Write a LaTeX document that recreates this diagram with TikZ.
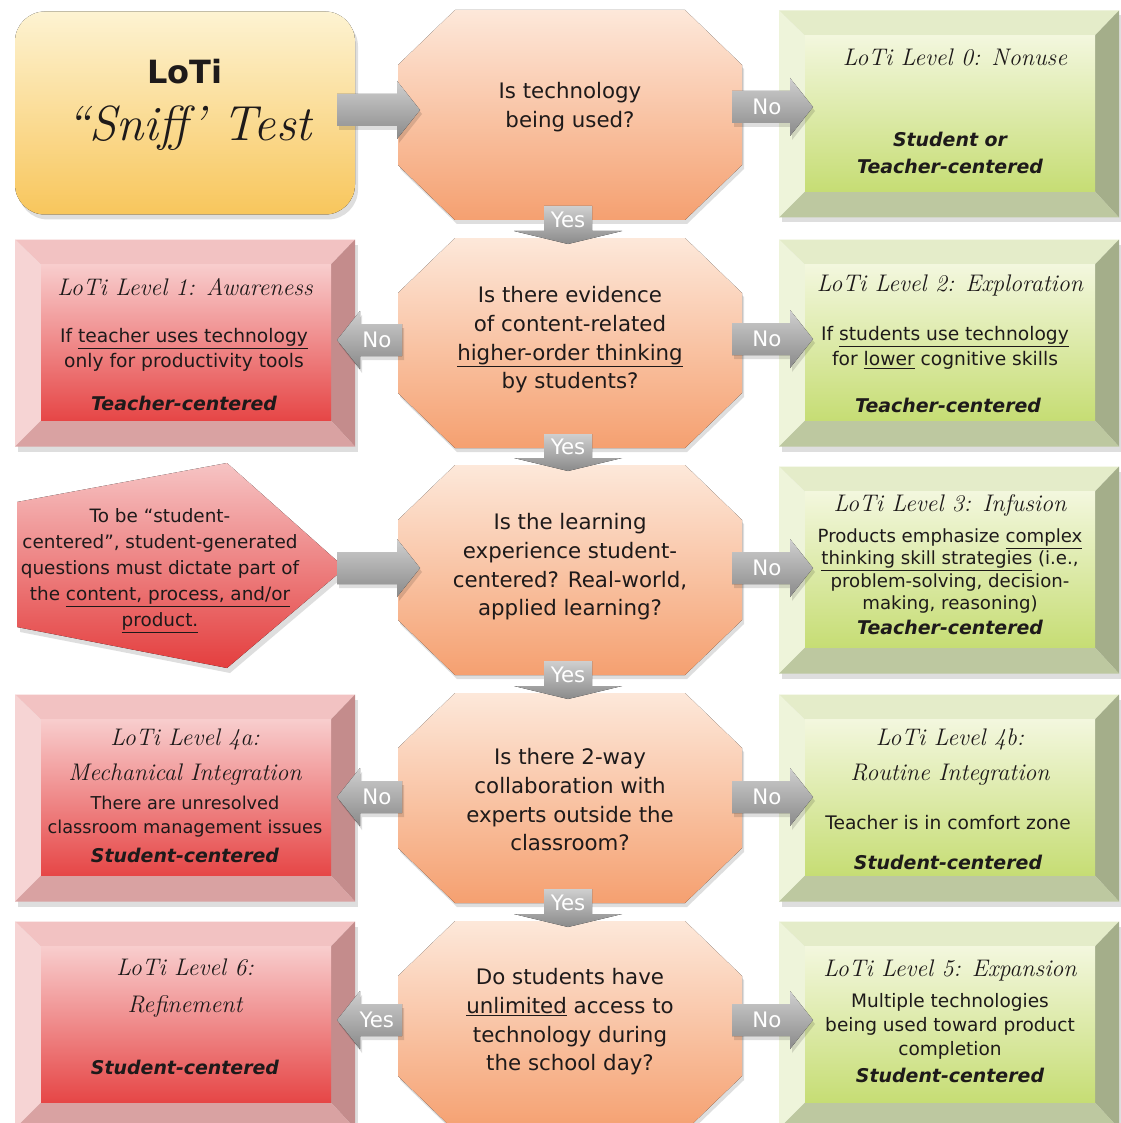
\documentclass[tikz,border=0pt]{standalone}
\usepackage{fontspec}
\newfontfamily\bodyf{DejaVu Sans}
\usetikzlibrary{calc}
\definecolor{octT}{HTML}{FDE8DA}
\definecolor{octB}{HTML}{F5A070}
\definecolor{stT}{HTML}{FDF3D2}
\definecolor{stB}{HTML}{F8C65C}
\definecolor{Rtop}{HTML}{F2C2C2}
\definecolor{Rleft}{HTML}{F6D4D4}
\definecolor{Rright}{HTML}{C48C8C}
\definecolor{Rbot}{HTML}{D9A2A2}
\definecolor{Rf1}{HTML}{F8CDCD}
\definecolor{Rf2}{HTML}{E64646}
\definecolor{Gtop}{HTML}{E4ECC9}
\definecolor{Gleft}{HTML}{EEF4DA}
\definecolor{Gright}{HTML}{A4AE8A}
\definecolor{Gbot}{HTML}{BDC8A0}
\definecolor{Gf1}{HTML}{F3F7DE}
\definecolor{Gf2}{HTML}{C6DD74}
\definecolor{arT}{HTML}{CFCFCF}
\definecolor{arB}{HTML}{8A8A8A}
\definecolor{pT}{HTML}{F6C4C4}
\definecolor{pB}{HTML}{E43E3E}
\definecolor{ink}{HTML}{1E1A1A}
\tikzset{
 shapebox/.style={inner sep=0pt, outer sep=0pt, minimum width=255pt, minimum height=155.25pt},
 octbox/.style={shapebox, minimum width=258pt, minimum height=157.5pt},
 hd/.style={font=\fontsize{18}{26}\selectfont\itshape, text=ink, align=center, inner sep=0pt},
 bd/.style={font=\bodyf\fontsize{14}{18.75}\selectfont, text=ink, align=center, inner sep=0pt},
 ctr/.style={font=\bodyf\bfseries\itshape\fontsize{14.2}{20}\selectfont, text=ink, align=center, inner sep=0pt},
 qt/.style={font=\bodyf\fontsize{16}{21.5}\selectfont, text=ink, align=center, inner sep=0pt},
 lbl/.style={font=\bodyf\fontsize{16}{18}\selectfont, text=white, inner sep=0pt},
 arrowfill/.style={top color=arT, bottom color=arB},
 shadowfill/.style={fill=black, opacity=0.13},
}
\newcommand\bevelbox[2]{%
 \path (#1.north west) coordinate (o1) (#1.north east) coordinate (o2)
       (#1.south east) coordinate (o3) (#1.south west) coordinate (o4);
 \path ($(o1)+(26,25)$) coordinate (i1) ($(o2)+(-24,25)$) coordinate (i2)
       ($(o3)+(-24,-26)$) coordinate (i3) ($(o4)+(26,-26)$) coordinate (i4);
 \fill[shadowfill] ($(o1)+(3,5)$) rectangle ($(o3)+(3,5)$);
 \fill[#2top] (o1) -- (o2) -- (i2) -- (i1) -- cycle;
 \fill[#2left] (o1) -- (i1) -- (i4) -- (o4) -- cycle;
 \fill[#2right] (o2) -- (o3) -- (i3) -- (i2) -- cycle;
 \fill[#2bot] (o4) -- (i4) -- (i3) -- (o3) -- cycle;
 \fill[top color=#2f1, bottom color=#2f2] (i1) rectangle (i3);
}
\newcommand\octa[1]{%
 \path ($(#1.north west)+(57,0)$) coordinate (c1) ($(#1.north east)+(-57,0)$) coordinate (c2)
       ($(#1.north east)+(0,55)$) coordinate (c3) ($(#1.south east)+(0,-55)$) coordinate (c4)
       ($(#1.south east)+(-57,0)$) coordinate (c5) ($(#1.south west)+(57,0)$) coordinate (c6)
       ($(#1.south west)+(0,-55)$) coordinate (c7) ($(#1.north west)+(0,55)$) coordinate (c8);
 \fill[shadowfill] ($(c1)+(2,4)$) -- ($(c2)+(2,4)$) -- ($(c3)+(2,4)$) -- ($(c4)+(2,4)$) -- ($(c5)+(2,4)$) -- ($(c6)+(2,4)$) -- ($(c7)+(2,4)$) -- ($(c8)+(2,4)$) -- cycle;
 \fill[top color=octT, bottom color=octB] (c1) -- (c2) -- (c3) -- (c4) -- (c5) -- (c6) -- (c7) -- (c8) -- cycle;
}
% #1 tail coordinate, #2 target anchor, #3 x offset of tip, #4 label, #5 label name
\newcommand\harr[5]{%
 \path #1 coordinate (ta);
 \path (#2 |- ta) coordinate (tc);
 \path ($(tc)+(#3,0)$) coordinate (tb);
 \path ($(tb)!17.25pt!(ta)$) coordinate (hb);
 \fill[shadowfill] ($(ta)+(2,-12)$) -- ($(hb)+(2,-12)$) -- ($(hb)+(2,-25)$) -- ($(tb)+(2,4)$) -- ($(hb)+(2,33)$) -- ($(hb)+(2,20)$) -- ($(ta)+(2,20)$) -- cycle;
 \fill[arrowfill] ($(ta)+(0,-16)$) -- ($(hb)+(0,-16)$) -- ($(hb)+(0,-29)$) -- (tb) -- ($(hb)+(0,29)$) -- ($(hb)+(0,16)$) -- ($(ta)+(0,16)$) -- cycle;
 \node[lbl] (#5) at ($(ta)!0.6!(hb)$) {#4};
}
\newcommand\yarr[3]{%
 \path ($(#1.south)+(-2,-14)$) coordinate (ya);
 \path (ya |- #2.north) coordinate (yc);
 \path ($(yc)+(0,-7)$) coordinate (yb);
 \fill[arrowfill] ($(ya)+(-24,0)$) -- ($(ya)+(24,0)$) -- ($(yb)+(24,0)$) -- ($(yb)+(54,0)$) -- ($(yb)+(0,13)$) -- ($(yb)+(-54,0)$) -- ($(yb)+(-24,0)$) -- cycle;
 \node[lbl] (#3) at ($(ya)!0.5!(yb)+(0,1)$) {Yes};
}
\begin{document}
\begin{tikzpicture}[x=0.75pt,y=-0.75pt]
\useasboundingbox (0,0) rectangle (1120,1123);
\fill[white] (0,0) rectangle (1120,1123);
% shape nodes
\node[shapebox, minimum height=152.25pt] (start) at (185,113) {};
\node[octbox] (q1) at (570,115) {};
\node[octbox] (q2) at (570,343) {};
\node[octbox] (q3) at (570,570) {};
\node[octbox] (q4) at (570,798) {};
\node[octbox] (q5) at (570,1026) {};
\node[shapebox] (l0) at (949,114) {};
\node[shapebox] (l1) at (185,343) {};
\node[shapebox] (l2) at (949,343) {};
\node[shapebox, minimum width=246pt, minimum height=153.75pt] (p) at (180,566) {};
\node[shapebox] (l3) at (949,570) {};
\node[shapebox] (l4a) at (185,798) {};
\node[shapebox] (l4b) at (949,798) {};
\node[shapebox] (l6) at (185,1025) {};
\node[shapebox] (l5) at (949,1025) {};
% start box
\fill[shadowfill, rounded corners=22.5pt] ($(start.north west)+(3,5)$) rectangle ($(start.south east)+(3,5)$);
\fill[top color=stT, bottom color=stB, rounded corners=22.5pt] (start.north west) rectangle (start.south east);
% octagons
\octa{q1}\octa{q2}\octa{q3}\octa{q4}\octa{q5}
% bevel boxes
\bevelbox{l0}{G}\bevelbox{l2}{G}\bevelbox{l3}{G}\bevelbox{l4b}{G}\bevelbox{l5}{G}
\bevelbox{l1}{R}\bevelbox{l4a}{R}\bevelbox{l6}{R}
% pentagon
\fill[shadowfill] ($(p.center)+(-160,-59)$) -- ($(p.center)+(50,-98)$) -- ($(p.center)+(168,7)$) -- ($(p.center)+(50,107)$) -- ($(p.center)+(-160,66)$) -- cycle;
\fill[top color=pT, bottom color=pB] ($(p.center)+(-163,-64)$) -- ($(p.center)+(47,-103)$) -- ($(p.center)+(165,2)$) -- ($(p.center)+(47,102)$) -- ($(p.center)+(-163,61)$) -- cycle;
% connectors
\harr{($(start.east)+(-18,-3)$)}{q1.west}{22}{}{a0}
\harr{($(q1.east)+(-10,-8)$)}{l0.west}{34}{No}{n1}
\yarr{q1}{q2}{y1}
\harr{($(q2.west)+(4,-3)$)}{l1.east}{-18}{No}{n2l}
\harr{($(q2.east)+(-10,-4)$)}{l2.west}{34}{No}{n2r}
\yarr{q2}{q3}{y2}
\harr{($(p.east)+(-7,2)$)}{q3.west}{22}{}{a3}
\harr{($(q3.east)+(-10,-2)$)}{l3.west}{34}{No}{n3r}
\yarr{q3}{q4}{y3}
\harr{($(q4.west)+(4,-1)$)}{l4a.east}{-18}{No}{n4l}
\harr{($(q4.east)+(-10,-1)$)}{l4b.west}{34}{No}{n4r}
\yarr{q4}{q5}{y4}
\harr{($(q5.west)+(4,-6)$)}{l6.east}{-18}{Yes}{y5l}
\harr{($(q5.east)+(-10,-6)$)}{l5.west}{34}{No}{n5r}
% texts
\node[font=\bodyf\bfseries\fontsize{24}{28}\selectfont, text=ink] (t0a) at (185,72) {LoTi};
\node[font=\fontsize{37}{40}\selectfont\itshape, text=ink] (t0b) at (189,128) {“Sniff’ Test};
\node[qt] (tq1) at (570,107) {Is technology\\being used?};
\node[qt] (tq2) at (570,340) {Is there evidence\\of content-related\\\underline{higher-order thinking}\\by students?};
\node[qt] (tq3) at (570,567) {Is the learning\\experience student-\\centered? Real-world,\\applied learning?};
\node[qt] (tq4) at (570,800) {Is there 2-way\\collaboration with\\experts outside the\\classroom?};
\node[qt] (tq5) at (570,1022) {Do students have\\\underline{unlimited} access to\\technology during\\the school day?};
% level 0
\node[hd] (h0) at (955,57) {LoTi Level 0: Nonuse};
\node[ctr, font=\bodyf\bfseries\itshape\fontsize{14.2}{20.5}\selectfont] (c0) at (950,153) {Student or\\Teacher-centered};
% level 1
\node[hd] (h1) at (185,287) {LoTi Level 1: Awareness};
\node[bd] (b1) at (184,350) {If \underline{teacher uses technology}\\only for productivity tools};
\node[ctr] (c1) at (184,403) {Teacher-centered};
% level 2
\node[hd] (h2) at (950,285) {LoTi Level 2: Exploration};
\node[bd] (b2) at (945,348) {If \underline{students use technology}\\for \underline{lower} cognitive skills};
\node[ctr] (c2) at (948,405) {Teacher-centered};
% pentagon text
\node[bd, font=\bodyf\fontsize{13.8}{19.5}\selectfont] (tp) at (160,571) {To be “student-\\centered”, student-generated\\questions must dictate part of\\the \underline{content, process, and/or}\\\underline{product.}};
% level 3
\node[hd] (h3) at (950,505) {LoTi Level 3: Infusion};
\node[bd, font=\bodyf\fontsize{13.6}{16.8}\selectfont] (b3) at (950,571) {Products emphasize \underline{complex}\\\underline{thinking skill strategies} (i.e.,\\problem-solving, decision-\\making, reasoning)};
\node[ctr] (c3) at (950,627) {Teacher-centered};
% level 4a
\node[hd] (h4a) at (185,757) {LoTi Level 4a:\\Mechanical Integration};
\node[bd, font=\bodyf\fontsize{13.3}{18}\selectfont] (b4a) at (185,817) {There are unresolved\\classroom management issues};
\node[ctr] (c4a) at (185,855) {Student-centered};
% level 4b
\node[hd] (h4b) at (950,757) {LoTi Level 4b:\\Routine Integration};
\node[bd] (b4b) at (948,823) {Teacher is in comfort zone};
\node[ctr] (c4b) at (948,862) {Student-centered};
% level 6
\node[hd, font=\fontsize{18}{28}\selectfont\itshape] (h6) at (185,988) {LoTi Level 6:\\Refinement};
\node[ctr] (c6) at (185,1067) {Student-centered};
% level 5
\node[hd] (h5) at (950,970) {LoTi Level 5: Expansion};
\node[bd, font=\bodyf\fontsize{13.9}{18}\selectfont] (b5) at (950,1026) {Multiple technologies\\being used toward product\\completion};
\node[ctr] (c5) at (950,1075) {Student-centered};
\end{tikzpicture}
\end{document}
